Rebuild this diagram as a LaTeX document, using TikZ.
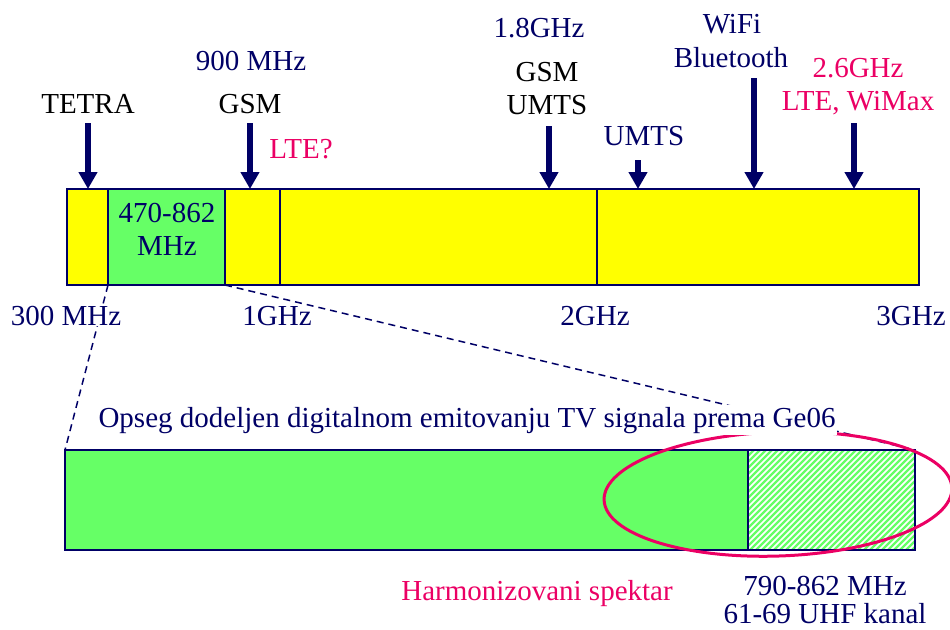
\documentclass[tikz,border=0pt]{standalone}
\usepackage{fontspec}
\setmainfont{Liberation Serif}
\usetikzlibrary{arrows.meta}
\definecolor{navy}{RGB}{0,0,102}
\definecolor{pinkred}{RGB}{235,0,100}
\definecolor{barY}{RGB}{255,255,0}
\definecolor{barG}{RGB}{102,255,102}
\begin{document}
\begin{tikzpicture}[x=1pt,y=-1pt,
  lbl/.style={font=\fontsize{29}{33}\selectfont, inner sep=0pt, anchor=base},
  navytxt/.style={lbl,text=navy},
  blacktxt/.style={lbl,text=black},
  pinktxt/.style={lbl,text=pinkred},
  arr/.style={draw=navy, line width=6pt, -{Triangle[width=18pt,length=17pt]}},
  box/.style={draw=navy, line width=2pt, inner sep=0pt, outer sep=0pt, anchor=north west},
  dashln/.style={draw=navy, line width=1.5pt, dash pattern=on 7pt off 5pt},
  hatchln/.style={draw=barG, line width=2.3pt}]
\useasboundingbox (0,0) rectangle (950,629);

% top bar
\node[box, fill=barY, minimum width=852pt, minimum height=96pt] (bar) at (67,189) {};
\node[box, fill=barG, minimum width=117pt, minimum height=96pt] (g) at (108,189) {};
\draw[draw=navy, line width=2pt] (280,189) -- (280,285);
\draw[draw=navy, line width=2pt] (597,189) -- (597,285);
\node[navytxt] (g1) at (167,222) {470-862};
\node[navytxt] (g2) at (167,255) {MHz};

% bottom bar
\node[box, fill=barG, minimum width=850pt, minimum height=100pt] (bb) at (65,450) {};
\node[box, fill=white, minimum width=167pt, minimum height=100pt] (hb) at (748,450) {};
\begin{scope}
  \clip (hb.north west) rectangle (hb.south east);
  \foreach \xx in {640,646,...,920} {
    \draw[hatchln] (\xx,552) -- (\xx+104,448);
  }
\end{scope}
\draw[draw=navy, line width=2pt] (hb.north west) rectangle (hb.south east);

% dashed zoom lines
\draw[dashln] (g.south west) -- (bb.north west);
\draw[dashln] (g.south east) -- (hb.north east);

% ellipse
\draw[pinkred, line width=3pt, rotate around={2:(778,494)}] (778,494) ellipse [x radius=174, y radius=62];

% arrows
\coordinate (aT) at (88,123);
\coordinate (aG) at (250,123);
\coordinate (aGU) at (549,126);
\coordinate (aU) at (638,160);
\coordinate (aW) at (754,78);
\coordinate (aL) at (854,123);
\draw[arr] (aT) -- (aT |- bar.north);
\draw[arr] (aG) -- (aG |- bar.north);
\draw[arr] (aGU) -- (aGU |- bar.north);
\draw[arr] (aU) -- (aU |- bar.north);
\draw[arr] (aW) -- (aW |- bar.north);
\draw[arr] (aL) -- (aL |- bar.north);

% labels above
\node[blacktxt] (tetra) at (88,113) {TETRA};
\node[navytxt] (f900) at (251,70) {900 MHz};
\node[blacktxt] (gsm) at (250,113) {GSM};
\node[pinktxt] (lteq) at (301,158) {LTE?};
\node[navytxt] (f18) at (539,37) {1.8GHz};
\node[blacktxt] (gsm2) at (547,81) {GSM};
\node[blacktxt] (umts) at (547,114) {UMTS};
\node[navytxt] (umts2) at (644,145) {UMTS};
\node[navytxt] (wifi) at (732,33) {WiFi};
\node[navytxt] (bt) at (731,67) {Bluetooth};
\node[pinktxt] (f26) at (858,77) {2.6GHz};
\node[pinktxt] (ltew) at (858,110) {LTE, WiMax};

% scale labels
\node[navytxt, fill=white, inner sep=1pt] (s300) at (66,325) {300 MHz};
\node[navytxt] (s1) at (277,325) {1GHz};
\node[navytxt] (s2) at (595,325) {2GHz};
\node[navytxt] (s3) at (911,325) {3GHz};

% bottom texts
\node[navytxt, fill=white, inner sep=2pt] (opseg) at (467,427) {Opseg dodeljen digitalnom emitovanju TV signala prema Ge06};
\node[pinktxt] (harm) at (537,600) {Harmonizovani spektar};
\node[navytxt] (r1) at (825,595) {790-862 MHz};
\node[navytxt] (r2) at (825,623) {61-69 UHF kanal};
\end{tikzpicture}
\end{document}
